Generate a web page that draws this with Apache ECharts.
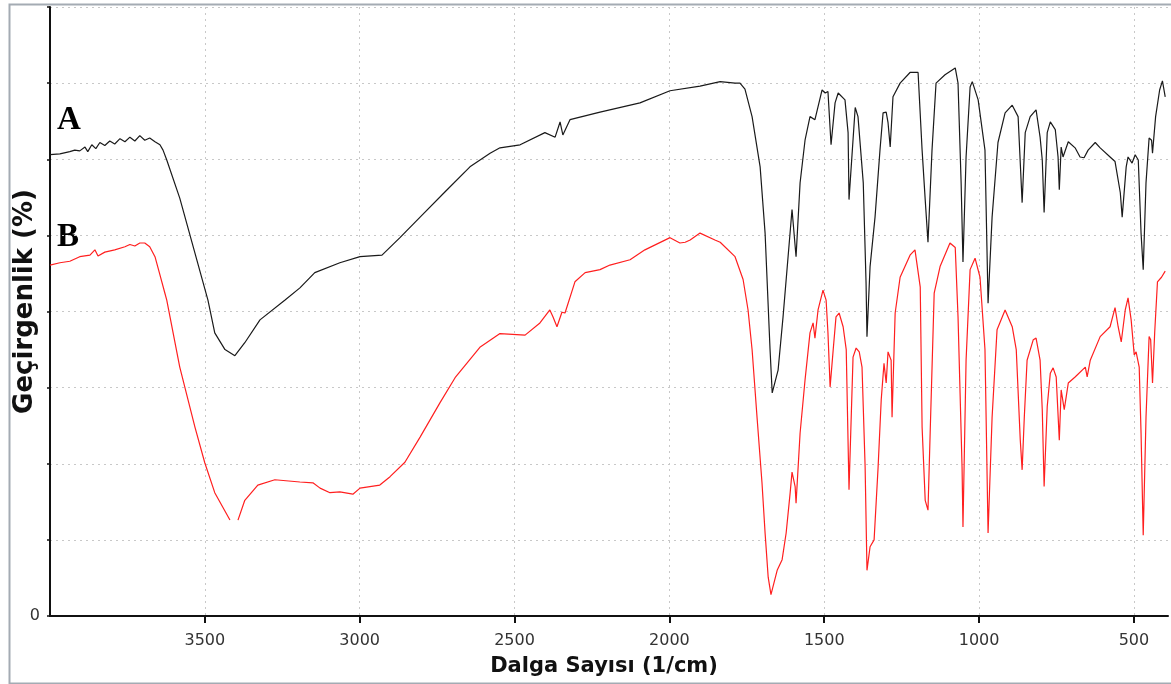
<!DOCTYPE html>
<html>
<head>
<meta charset="utf-8">
<script src="https://cdn.jsdelivr.net/npm/echarts@6/dist/echarts.min.js"></script>
<style>
html,body{margin:0;padding:0;background:#fff;}
#chart{width:1171px;height:684px;}
</style>
</head>
<body>
<div id="chart"></div>
<script>
// Wavenumber ticks (1/cm)
const xTicks = [3500, 3000, 2500, 2000, 1500, 1000, 500];
// Series names
const seriesNames = ['A', 'B'];
// Spectrum A: [wavenumber, transmittance]
const spectrumA = [
[4000,60.6],[3968,60.7],[3936,61.0],[3920,61.2],[3904,61.1],[3887,61.6],[3878,61.0],[3865,61.9],[3852,61.4],[3839,62.2],
[3823,61.8],[3807,62.4],[3791,62.0],[3774,62.7],[3758,62.3],[3742,62.9],[3726,62.4],[3710,63.1],[3694,62.5],[3678,62.8],
[3661,62.3],[3645,61.9],[3635,61.2],[3623,59.9],[3581,54.9],[3490,41.5],[3468,37.2],[3435,35.0],[3403,34.2],[3371,35.9],
[3322,38.9],[3241,41.5],[3193,43.1],[3145,45.1],[3064,46.4],[2999,47.2],[2928,47.4],[2870,49.7],[2805,52.4],[2725,55.7],
[2644,59.0],[2579,60.8],[2547,61.5],[2482,61.9],[2402,63.5],[2369,62.9],[2353,64.9],[2344,63.2],[2321,65.2],[2224,66.2],
[2095,67.4],[1998,69.0],[1901,69.6],[1836,70.2],[1788,70.0],[1772,70.0],[1756,69.2],[1733,65.6],[1707,59.0],[1691,50.3],
[1675,35.0],[1668,29.3],[1649,32.3],[1633,39.3],[1604,53.4],[1591,47.2],[1578,56.9],[1562,62.5],[1546,65.6],[1530,65.2],
[1507,69.1],[1497,68.7],[1488,68.9],[1478,61.9],[1465,67.4],[1455,68.7],[1433,67.8],[1423,63.5],[1420,54.7],[1400,66.8],
[1391,65.6],[1374,56.9],[1365,43.8],[1362,36.7],[1352,45.9],[1336,52.4],[1320,61.2],[1310,66.1],[1300,66.2],[1294,64.8],
[1287,61.6],[1278,68.2],[1255,70.0],[1223,71.4],[1197,71.4],[1184,61.2],[1174,54.7],[1165,49.1],[1152,61.2],[1139,70.0],
[1110,71.1],[1077,72.0],[1068,70.0],[1058,56.9],[1052,46.5],[1042,60.3],[1029,69.5],[1022,70.2],[1003,67.8],[981,61.2],
[971,41.1],[958,52.4],[939,62.2],[916,66.1],[893,67.1],[874,65.6],[864,56.9],[861,54.3],[851,63.5],[835,65.6],
[816,66.5],[803,62.9],[796,59.9],[790,53.0],[780,63.5],[770,64.9],[754,63.9],[745,60.3],[741,56.0],[735,61.6],
[729,60.3],[712,62.3],[690,61.5],[674,60.3],[661,60.2],[648,61.2],[625,62.2],[609,61.5],[577,60.3],[561,59.7],
[544,55.6],[538,52.4],[525,59.0],[519,60.3],[506,59.5],[496,60.6],[486,59.9],[477,50.3],[470,45.5],[461,56.9],
[451,62.8],[443,62.5],[440,60.8],[430,65.6],[417,69.1],[408,70.3],[399,68.2]
];
// Spectrum B: [wavenumber, transmittance]
const spectrumB = [
[4000,46.1],[3968,46.4],[3936,46.6],[3904,47.2],[3871,47.4],[3855,48.1],[3845,47.3],[3823,47.8],[3791,48.1],[3758,48.5],
[3742,48.8],[3726,48.6],[3710,49.0],[3694,49.0],[3678,48.5],[3661,47.2],[3645,44.8],[3629,42.4],[3623,41.5],[3581,32.7],
[3532,24.8],[3500,20.1],[3468,16.2],[3419,12.6],[3406,'-'],[3393,12.6],[3371,15.2],[3329,17.2],[3274,17.9],[3193,17.6],
[3151,17.5],[3128,16.8],[3096,16.2],[3064,16.3],[3022,16.0],[2999,16.8],[2935,17.2],[2902,18.3],[2854,20.2],[2805,23.5],
[2741,28.0],[2692,31.3],[2612,35.3],[2547,37.1],[2466,36.9],[2418,38.5],[2386,40.2],[2376,39.3],[2363,38.0],[2347,39.9],
[2337,39.8],[2305,43.9],[2272,45.1],[2224,45.5],[2192,46.1],[2127,46.8],[2079,48.1],[1998,49.7],[1966,49.0],[1949,49.1],
[1933,49.4],[1901,50.3],[1853,49.4],[1836,49.1],[1788,47.2],[1762,44.2],[1746,40.2],[1733,35.0],[1717,26.1],[1701,17.5],
[1691,10.9],[1681,5.1],[1672,2.8],[1652,6.0],[1636,7.4],[1623,10.9],[1610,16.2],[1604,18.9],[1594,17.0],[1591,14.8],
[1578,24.0],[1562,31.0],[1546,37.2],[1536,38.5],[1530,36.5],[1520,40.2],[1504,42.8],[1494,41.5],[1488,37.2],[1481,30.1],
[1471,35.0],[1462,39.3],[1452,39.8],[1439,38.0],[1429,35.0],[1420,16.6],[1407,34.0],[1397,35.2],[1387,34.7],[1378,32.7],
[1368,19.6],[1362,6.0],[1352,9.1],[1339,10.0],[1326,19.6],[1316,28.4],[1307,33.2],[1300,30.6],[1294,34.7],[1284,33.6],
[1281,26.1],[1271,39.8],[1255,44.5],[1223,47.4],[1207,48.1],[1190,43.2],[1184,24.8],[1174,15.2],[1165,13.9],[1158,24.0],
[1145,42.4],[1126,45.9],[1094,49.0],[1077,48.4],[1068,39.3],[1055,19.6],[1052,11.7],[1042,33.6],[1029,45.5],[1013,47.0],
[997,44.5],[981,35.0],[971,10.9],[958,26.1],[942,37.6],[916,40.2],[893,38.0],[880,35.0],[867,23.1],[861,19.2],
[854,26.1],[845,33.6],[825,36.3],[816,36.5],[803,33.6],[796,27.1],[790,17.0],[780,27.5],[770,31.9],[761,32.6],
[751,31.4],[741,23.1],[735,29.7],[725,27.1],[712,30.6],[690,31.4],[657,32.7],[651,31.4],[641,33.6],[609,36.7],
[577,38.0],[561,40.5],[551,38.0],[541,36.0],[528,40.2],[519,41.8],[509,38.9],[499,34.3],[493,34.7],[483,32.7],
[477,24.0],[470,10.6],[461,26.1],[451,36.7],[446,36.3],[440,30.6],[433,37.2],[424,43.9],[411,44.5],[399,45.3]
];

const chart = echarts.init(document.getElementById('chart'), null, {renderer: 'canvas'});
const gridLine = {show: true, lineStyle: {color: '#c8c8c8', type: [2, 4], width: 1}};
const sans = 'DejaVu Sans, Verdana, sans-serif';
chart.setOption({
  animation: false,
  backgroundColor: '#ffffff',
  grid: {left: 50, right: 3, top: 7, bottom: 68, containLabel: false, outerBoundsMode: 'none'},
  xAxis: {
    type: 'value', inverse: true, min: 390, max: 4000,
    name: 'Dalga Sayısı (1/cm)', nameLocation: 'middle', nameGap: 40, nameMoveOverlap: false,
    nameTextStyle: {fontFamily: sans, fontWeight: 'bold', fontSize: 21, color: '#111', padding: [0, 10, 0, 0]},
    axisLine: {show: true, onZero: false, lineStyle: {color: '#111', width: 2}},
    axisTick: {show: true, inside: false, length: 7, customValues: xTicks, lineStyle: {color: '#111', width: 2}},
    axisLabel: {customValues: xTicks, margin: 17, fontFamily: sans, fontSize: 16, color: '#333',
      formatter: v => String(v)},
    splitLine: gridLine
  },
  yAxis: {
    type: 'value', min: 0, max: 80, interval: 10,
    name: 'Geçirgenlik (%)', nameLocation: 'middle', nameGap: 12, nameRotate: 90, nameMoveOverlap: false,
    nameTextStyle: {fontFamily: sans, fontWeight: 'bold', fontSize: 26, color: '#111', padding: [0, 0, 0, 20]},
    axisLine: {show: true, onZero: false, lineStyle: {color: '#111', width: 2}},
    axisTick: {show: true, inside: false, length: 3, lineStyle: {color: '#111', width: 1.5}},
    axisLabel: {margin: 10, fontFamily: sans, fontSize: 16, color: '#333',
      formatter: v => (v === 0 ? '0' : '')},
    splitLine: gridLine
  },
  series: [
    {name: seriesNames[0], type: 'line', data: spectrumA, showSymbol: false, connectNulls: false,
     lineStyle: {color: '#1a1a1a', width: 1.2}, itemStyle: {color: '#1a1a1a'}, z: 3},
    {name: seriesNames[1], type: 'line', data: spectrumB, showSymbol: false, connectNulls: false,
     lineStyle: {color: '#ff1f1f', width: 1.2}, itemStyle: {color: '#ff1f1f'}, z: 2}
  ],
  graphic: [
    {type: 'rect', left: 7, top: 2, shape: {x: 0, y: 0, width: 1200, height: 679}, silent: true,
     style: {fill: 'none', stroke: '#a4abb3', lineWidth: 2}},
    {type: 'text', left: 57, top: 104, silent: true,
     style: {text: seriesNames[0], fontFamily: 'Liberation Serif, Times New Roman, serif', fontWeight: 'bold', fontSize: 33, fill: '#000'}},
    {type: 'text', left: 57, top: 221, silent: true,
     style: {text: seriesNames[1], fontFamily: 'Liberation Serif, Times New Roman, serif', fontWeight: 'bold', fontSize: 33, fill: '#000'}}
  ]
});
</script>
</body>
</html>
